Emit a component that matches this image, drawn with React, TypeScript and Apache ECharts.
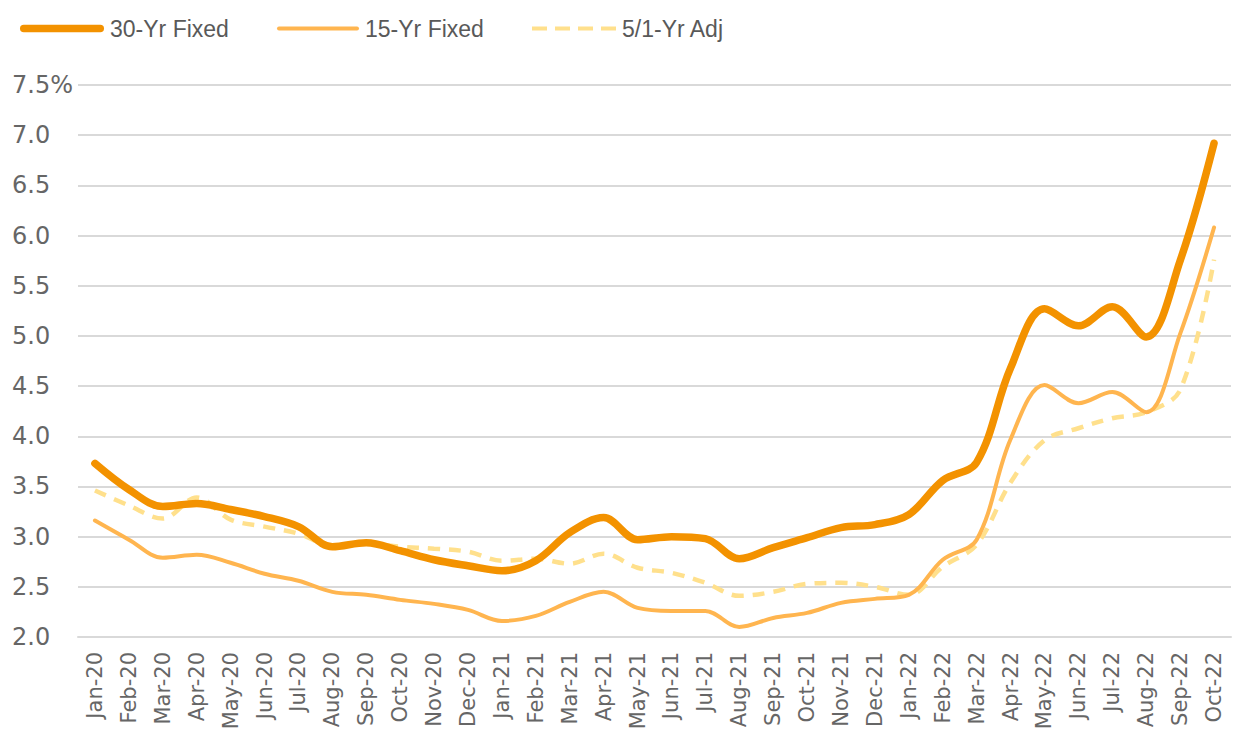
import React, { useEffect, useRef } from "react";
import * as echarts from "echarts";

const months = [
  "Jan-20", "Feb-20", "Mar-20", "Apr-20", "May-20", "Jun-20", "Jul-20", "Aug-20", "Sep-20", "Oct-20", "Nov-20", "Dec-20",
  "Jan-21", "Feb-21", "Mar-21", "Apr-21", "May-21", "Jun-21", "Jul-21", "Aug-21", "Sep-21", "Oct-21", "Nov-21", "Dec-21",
  "Jan-22", "Feb-22", "Mar-22", "Apr-22", "May-22", "Jun-22", "Jul-22", "Aug-22", "Sep-22", "Oct-22",
];

const fixed30 = [
  3.73, 3.47, 3.30, 3.33, 3.27, 3.20, 3.10, 2.90, 2.94, 2.86, 2.77, 2.71,
  2.66, 2.76, 3.04, 3.19, 2.97, 3.00, 2.98, 2.78, 2.89, 2.99, 3.09, 3.12,
  3.22, 3.56, 3.74, 4.68, 5.27, 5.10, 5.29, 4.99, 5.75, 6.92,
];

const fixed15 = [
  3.16, 2.97, 2.79, 2.82, 2.74, 2.63, 2.56, 2.45, 2.42, 2.37, 2.33, 2.27,
  2.16, 2.21, 2.35, 2.45, 2.29, 2.26, 2.26, 2.10, 2.19, 2.24, 2.34, 2.38,
  2.42, 2.77, 2.97, 3.97, 4.51, 4.33, 4.44, 4.24, 5.02, 6.08,
];

const adj51 = [
  3.46, 3.31, 3.18, 3.39, 3.17, 3.10, 3.03, 2.91, 2.93, 2.90, 2.88, 2.85,
  2.76, 2.78, 2.73, 2.83, 2.69, 2.64, 2.54, 2.41, 2.45, 2.53, 2.54, 2.50,
  2.42, 2.70, 2.92, 3.54, 3.96, 4.08, 4.18, 4.24, 4.46, 5.76,
];

const seriesNames = ["30-Yr Fixed", "15-Yr Fixed", "5/1-Yr Adj"];
const colors = ["#F39200", "#FFB54F", "#FFE08C"];

export default function App() {
  const ref = useRef<HTMLDivElement>(null);

  useEffect(() => {
    if (!ref.current) return;
    const chart = echarts.init(ref.current, null, { renderer: "svg" });
    const legendFont = "'Liberation Sans', Arial, sans-serif";
    const axisFont = "'DejaVu Sans', sans-serif";
    const legendText = { fontSize: 23, color: "#595959", fontFamily: legendFont, padding: [0, 0, 0, 1] };
    const solidThick = "path://M3.75,0H80.25A3.75,3.75,0,0,1,80.25,7.5H3.75A3.75,3.75,0,0,1,3.75,0Z";
    const solidThin = "path://M2,0H80A2,2,0,0,1,80,4H2A2,2,0,0,1,2,0Z";
    const dashed = "path://M0,0H15V4H0Z M23,0H38V4H23Z M46,0H61V4H46Z M69,0H84V4H69Z";
    chart.setOption({
      animation: false,
      backgroundColor: "#ffffff",
      legend: [
        {
          left: 15, top: 12, itemWidth: 84, itemHeight: 8, textStyle: legendText,
          data: [{ name: seriesNames[0], icon: solidThick, itemStyle: { color: colors[0] } }],
        },
        {
          left: 272, top: 12, itemWidth: 82, itemHeight: 4, textStyle: legendText,
          data: [{ name: seriesNames[1], icon: solidThin, itemStyle: { color: colors[1] } }],
        },
        {
          left: 527, top: 12, itemWidth: 84, itemHeight: 4, textStyle: legendText,
          data: [{ name: seriesNames[2], icon: dashed, itemStyle: { color: colors[2] } }],
        },
      ],
      grid: { left: 78, right: 2, top: 85, bottom: 99 },
      xAxis: {
        type: "category",
        data: months,
        boundaryGap: true,
        axisTick: { show: false },
        axisLine: { lineStyle: { color: "#d9d9d9", width: 2 } },
        axisLabel: {
          rotate: 90,
          interval: 0,
          fontSize: 21,
          color: "#666666",
          margin: 15,
          fontFamily: axisFont,
          padding: [8, 0, 0, 0],
        },
      },
      yAxis: {
        type: "value",
        min: 2,
        max: 7.5,
        interval: 0.5,
        axisLine: { show: false },
        axisTick: { show: false },
        splitLine: { lineStyle: { color: "#d9d9d9", width: 2 } },
        axisLabel: {
          align: "left",
          margin: 66,
          fontSize: 24,
          color: "#666666",
          fontFamily: axisFont,
          formatter: (v: number) => (v === 7.5 ? "7.5%" : v.toFixed(1)),
        },
      },
      series: [
        {
          name: seriesNames[2],
          type: "line",
          data: adj51,
          smooth: 0.35,
          symbol: "none",
          z: 1,
          lineStyle: { color: colors[2], width: 4.5, type: [12, 9], cap: "butt" },
          itemStyle: { color: colors[2] },
        },
        {
          name: seriesNames[1],
          type: "line",
          data: fixed15,
          smooth: 0.35,
          symbol: "none",
          z: 2,
          lineStyle: { color: colors[1], width: 4, cap: "round" },
          itemStyle: { color: colors[1] },
        },
        {
          name: seriesNames[0],
          type: "line",
          data: fixed30,
          smooth: 0.35,
          symbol: "none",
          z: 3,
          lineStyle: { color: colors[0], width: 7.5, cap: "round" },
          itemStyle: { color: colors[0] },
        },
      ],
    });
    return () => chart.dispose();
  }, []);

  return (
    <div style={{ position: "fixed", left: 0, top: 0, width: 1233, height: 736, background: "#fff" }}>
      <div ref={ref} style={{ width: 1233, height: 736 }} />
    </div>
  );
}
